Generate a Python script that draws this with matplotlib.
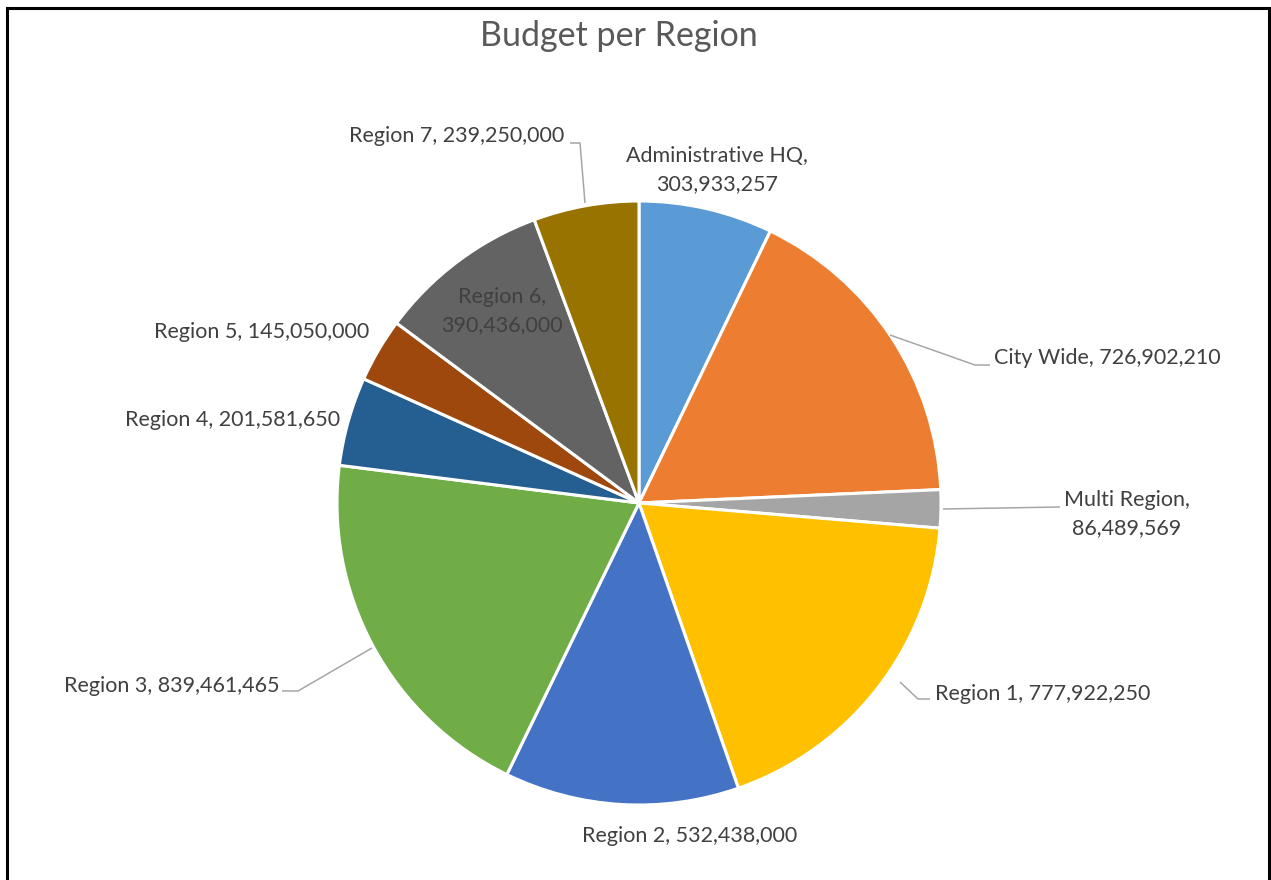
import matplotlib.pyplot as plt
from matplotlib.patches import Rectangle

plt.rcParams['font.family'] = ['Lato', 'DejaVu Sans']

names = ['Administrative HQ', 'City Wide', 'Multi Region', 'Region 1', 'Region 2',
         'Region 3', 'Region 4', 'Region 5', 'Region 6', 'Region 7']
budget = [303933257, 726902210, 86489569, 777922250, 532438000,
          839461465, 201581650, 145050000, 390436000, 239250000]
colors = ['#5B9BD5', '#ED7D31', '#A5A5A5', '#FFC000', '#4472C4',
          '#70AD47', '#255E91', '#9E480E', '#636363', '#997300']

W, H = 1271, 880
cx, cy, R = 639, 503, 302


def px(x, y):
    # pixel position (from top-left) -> data units of the pie
    return (x - cx) / R, (cy - y) / R


fig = plt.figure(figsize=(W / 100, H / 100), dpi=100)
ax = fig.add_axes([0, 0, 1, 1])

ax.pie(budget, colors=colors, startangle=90, counterclock=False, radius=1,
       wedgeprops=dict(edgecolor='white', linewidth=2.2))

ax.set_xlim(-cx / R, (W - cx) / R)
ax.set_ylim((cy - H) / R, cy / R)
ax.set_aspect('equal')
ax.axis('off')

# label placement: (x, y, ha, split over two lines)
label_pos = {
    'Administrative HQ': (717, 170, 'center', True),
    'City Wide': (994, 358, 'left', False),
    'Multi Region': (1127, 514, 'center', True),
    'Region 1': (935, 694, 'left', False),
    'Region 2': (690, 836, 'center', False),
    'Region 3': (279, 686, 'right', False),
    'Region 4': (340, 420, 'right', False),
    'Region 5': (369, 332, 'right', False),
    'Region 6': (502, 311, 'center', True),
    'Region 7': (564, 136, 'right', False),
}

for name, val in zip(names, budget):
    x, y, ha, wrap = label_pos[name]
    sep = ',\n' if wrap else ', '
    ax.text(*px(x, y), f'{name}{sep}{val:,}', ha=ha, va='center', fontsize=15.5,
            color='#404040', linespacing=1.45)

# leader lines
leaders = [
    [(890, 335), (975, 365), (990, 365)],
    [(943, 509), (1060, 507)],
    [(900, 682), (918, 699), (930, 699)],
    [(372, 648), (298, 691), (282, 691)],
    [(585, 203), (580, 143), (570, 143)],
]
for pts in leaders:
    xs, ys = zip(*[px(a, b) for a, b in pts])
    ax.plot(xs, ys, color='#A6A6A6', lw=1.1, solid_capstyle='butt')

ax.text(*px(619, 36), 'Budget per Region', ha='center', va='center',
        fontsize=24.5, color='#595959')

fig.patches.append(Rectangle((7 / W, -0.05), 1262 / W, 1.05 - 8 / H, transform=fig.transFigure,
                             fill=False, edgecolor='black', lw=2.2))

fig.savefig('out.png', dpi=100)
